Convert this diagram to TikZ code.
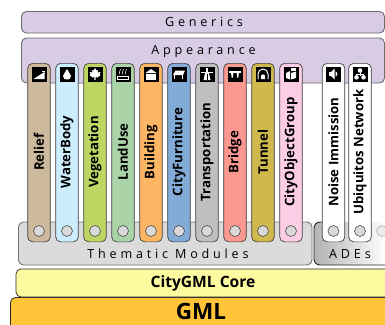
\documentclass[tikz,border=0pt]{standalone}
\usepackage{fontspec}
\setmainfont{Open Sans}
\newfontfamily\spaced[LetterSpace=30]{Open Sans}
\definecolor{lilac}{HTML}{D8CCE4}
\definecolor{edgegray}{HTML}{6E6A70}
\definecolor{cRelief}{HTML}{CDB99B}
\definecolor{cWater}{HTML}{CBEDFE}
\definecolor{cVeg}{HTML}{BED662}
\definecolor{cLand}{HTML}{AAD4A8}
\definecolor{cBuild}{HTML}{FDB664}
\definecolor{cFurn}{HTML}{82ABD8}
\definecolor{cTrans}{HTML}{BFBFBF}
\definecolor{cBridge}{HTML}{FB9890}
\definecolor{cTunnel}{HTML}{CFB84C}
\definecolor{cGroup}{HTML}{FCCDE4}
\definecolor{cGML}{HTML}{FFC438}
\definecolor{cCore}{HTML}{FDFBA0}
\tikzset{
  x=1pt,y=-1pt,
  band/.style={draw=edgegray,line width=0.9pt,fill=lilac,rounded corners=5pt},
  pill/.style={draw=black!75,line width=0.7pt,rounded corners=5pt,minimum width=22.6pt,minimum height=178.5pt,anchor=north,inner sep=0pt},
  hole/.style={circle,draw=black!70,line width=0.6pt,fill=black!15,minimum size=11pt,inner sep=0pt},
  icon/.style={fill=black,minimum size=15pt,inner sep=0pt,draw=none},
  wide/.style={font=\spaced\fontsize{12.6}{14}\selectfont,text=black,inner sep=0pt},
  pilltext/.style={rotate=90,font=\bfseries\fontsize{13.2}{15}\selectfont,inner sep=0pt,anchor=center},
  corebar/.style={draw=black!85,line width=0.7pt,rounded corners=5pt},
  glyph/.style={fill=white,draw=none},
  glyphline/.style={draw=white,line width=0.7pt,fill=none}
}
\newcommand{\pillset}[5]{%
  \node[pill,fill=#3] (#1) at (#2,63) {};
  \node[hole] (#1h) at (#2,231) {};
  \node[icon] (#1i) at (#2,74) {};
  \node[pilltext] (#1t) at (#2,152) {#4};
  \begin{scope}[shift={(#2,74)}]#5\end{scope}
}
\begin{document}
\begin{tikzpicture}
\useasboundingbox (0,0) rectangle (385,324);
\fill[white] (0,0) rectangle (385,324);
% lower bars
\draw[corebar,fill=cGML] (10.5,335) -- (10.5,297.5) -- (395,297.5) -- (395,335) -- cycle;
\draw[corebar,fill=cCore] (16,297) -- (16,269) -- (395,269) -- (395,297) -- cycle;
\node[font=\bfseries\fontsize{15.6}{17}\selectfont,inner sep=0pt] (core) at (203,283) {CityGML Core};
\node[font=\bfseries\fontsize{22.5}{24}\selectfont,inner sep=0pt] (gml) at (201,311) {GML};
% module containers
\draw[band,draw=black!55,fill=black!14] (18.5,222) rectangle (312,265);
\shade[left color=black!30,middle color=black!10,right color=white,rounded corners=6pt] (314,222) rectangle (386,265);
\draw[draw=black!85,line width=0.9pt,rounded corners=6pt] (385,265) -- (314,265) -- (314,222) -- (322,222);
\node[wide] (thematic) at (168,254) {Thematic Modules};
\node[wide] (ades) at (350,254) {ADEs};
% lilac bands
\draw[band] (21.5,11.5) rectangle (384.5,33);
\node[wide] (generics) at (204,22) {Generics};
\draw[band] (21.5,38) rectangle (384.5,83);
\node[wide] (appearance) at (203.5,51) {Appearance};
% partial ADE stub
\node[hole,draw=black!30,fill=black!8] (stub) at (382,231) {};
% pills
\pillset{relief}{39}{cRelief}{Relief}{\fill[glyph] (-5.5,5) -- (5.5,5) -- (5.5,-2) -- cycle; \fill[glyph] (3,-3.5) rectangle (5.5,-3);}
\pillset{water}{67}{cWater}{WaterBody}{\fill[glyph] (0,-5) .. controls (1,-2) and (4,0) .. (4,2) .. controls (4,5) and (2,5.5) .. (0,5.5) .. controls (-2,5.5) and (-4,5) .. (-4,2) .. controls (-4,0) and (-1,-2) .. (0,-5) -- cycle;}
\pillset{veg}{95}{cVeg}{Vegetation}{\fill[glyph] (0,-6) -- (1.5,-3.5) -- (3,-4) -- (2.5,-1.5) -- (5.5,-2) -- (4.5,0) -- (5.5,1) -- (2.5,3.5) -- (0.6,3) -- (0.6,6) -- (-0.6,6) -- (-0.6,3) -- (-2.5,3.5) -- (-5.5,1) -- (-4.5,0) -- (-5.5,-2) -- (-2.5,-1.5) -- (-3,-4) -- (-1.5,-3.5) -- cycle;}
\pillset{land}{123}{cLand}{LandUse}{\draw[glyphline] (-5.5,2) rectangle (5.5,5.5);
  \foreach \q in {-4,-1,2}{\draw[glyphline,line width=0.6pt] (\q,0.5) .. controls (\q+1.5,-1) and (\q-0.5,-2) .. (\q+1,-3.5) .. controls (\q+1.5,-4) .. (\q+1.5,-5);}}
\pillset{build}{151}{cBuild}{Building}{\fill[glyph] (-5.5,-1) -- (0,-5) -- (5.5,-1) -- cycle; \fill[glyph] (-5,0) rectangle (5,5.5);}
\pillset{furn}{179}{cFurn}{CityFurniture}{\fill[glyph] (-3.5,-3.5) -- (6,-3.5) -- (4,1) -- (-6,1) -- cycle; \fill[glyph] (-5,1) rectangle (-3.8,4.5); \fill[glyph] (2.5,1) rectangle (3.7,4.5);}
\pillset{trans}{207}{cTrans}{Transportation}{\fill[glyph] (-1,-6) rectangle (1,-2); \fill[glyph] (-6,-2.5) rectangle (6,-0.8); \fill[glyph] (-2,-0.8) -- (2,-0.8) -- (3.5,6) -- (-3.5,6) -- cycle;\draw[black,line width=0.4pt] (0,-0.5) -- (0,6);}
\pillset{bridge}{235}{cBridge}{Bridge}{\fill[glyph] (-6,-3.5) rectangle (6,-1.5); \fill[glyph] (-4,-1.5) -- (-1.5,-1.5) -- (-2.2,3.5) -- (-3.3,3.5) -- cycle; \fill[glyph] (1.5,-1.5) -- (4,-1.5) -- (3.3,3.5) -- (2.2,3.5) -- cycle;}
\pillset{tunnel}{263}{cTunnel}{Tunnel}{\draw[glyphline,line width=1pt] (-5,5) -- (-5,0) arc[start angle=180,end angle=0,x radius=5,y radius=-5] -- (5,5); \fill[glyph] (-2.2,5) -- (-2.2,2.5) arc[start angle=180,end angle=0,x radius=2.2,y radius=-2.2] -- (2.2,5) -- cycle;}
\pillset{group}{291}{cGroup}{CityObjectGroup}{\fill[glyph] (-5,-1) -- (-1,-3) -- (-1,5.5) -- (-5,4) -- cycle; \fill[glyph] (0,-1) -- (5,-2.5) -- (5,4) -- (0,5.5) -- cycle; \fill[glyph] (0,-6) rectangle (4.5,-3);}
\pillset{noise}{333.5}{white}{Noise Immission}{\fill[glyph] (-5,-2) rectangle (-2.5,2); \fill[glyph] (-2.5,-2) -- (1,-5.5) -- (1,5.5) -- (-2.5,2) -- cycle; \fill[glyph] (2,-3) .. controls (4.5,-1) and (4.5,1) .. (2,3) -- cycle;}
\pillset{ubi}{360}{white}{Ubiquitos Network}{\draw[glyphline] (-3.5,2) -- (-3.5,0) -- (3.5,0) -- (3.5,2); \draw[glyphline] (0,-3) -- (0,2); \fill[glyph] (0,-3.5) circle[radius=2.3]; \fill[glyph] (-3.5,3.3) circle[radius=2.3]; \fill[glyph] (3.5,3.3) circle[radius=2.3];}
\end{tikzpicture}
\end{document}
